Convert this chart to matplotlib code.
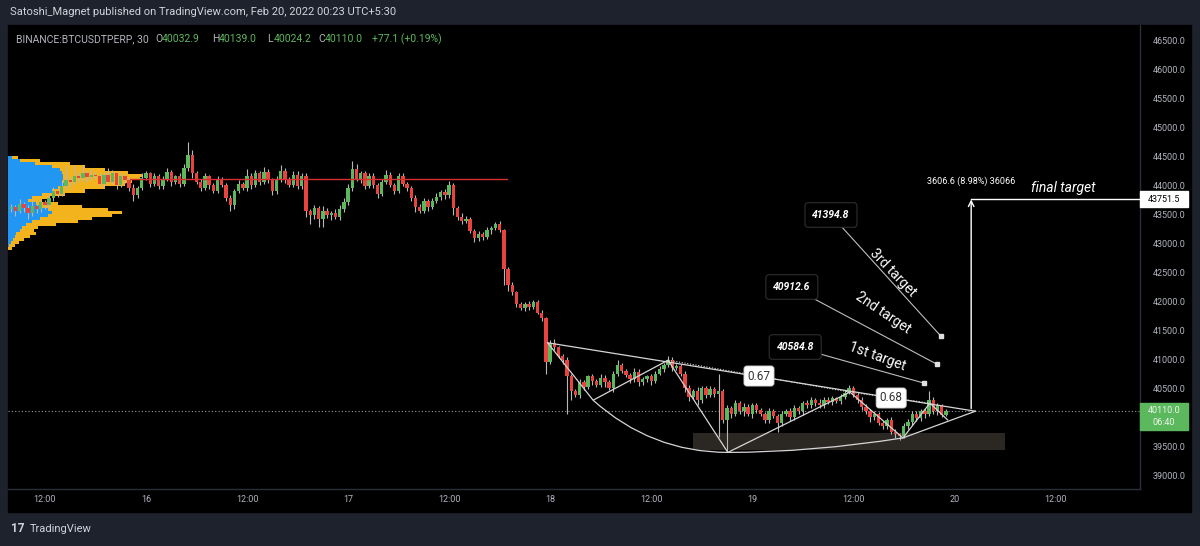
import numpy as np
import matplotlib
matplotlib.use('Agg')
import matplotlib.pyplot as plt
from matplotlib.patches import Rectangle, PathPatch
from matplotlib.path import Path
import matplotlib.transforms as mtransforms

plt.rcParams['font.family'] = ['Roboto', 'DejaVu Sans']

# ---- data (30 min candles, time in hours after Feb 15 00:00) ----
t_first = 8.0
open_first = 43580
closes = [
    43620, 43550, 43680, 43600, 43520, 43640, 43580, 43700, 43650, 43780,
    43900, 43850, 43980, 44080, 44050, 44150, 44120, 44200, 44130, 44180,
    44150, 44020, 44180, 44060, 44200, 44000, 44150, 44080, 43950, 43820,
    43950, 44120, 44200, 44020, 44150, 43980, 44100, 44220, 44050, 44150,
    44020, 44300, 44520, 44200, 44050, 43950, 44150, 44000, 43900, 44100,
    44000, 43780, 43650, 43900, 44020, 43950, 44150, 44000, 44200, 44050,
    44230, 44080, 43900, 44100, 44250, 44100, 44000, 44180, 43980, 44150,
    43550, 43480, 43600, 43420, 43550, 43480, 43520, 43450, 43580, 43700,
    43950, 44280, 44100, 44200, 43980, 44150, 44000, 43850, 44050, 44180,
    44000, 43900, 44150, 44020, 43950, 43780, 43620, 43550, 43720, 43620,
    43720, 43800, 43880, 43820, 44000, 43600, 43450, 43380, 43420, 43200,
    43080, 43150, 43100, 43220, 43260, 43320, 43220, 42550, 42280, 42150,
    41950, 41880, 41950, 41900, 41980, 41800, 41700, 40950, 41280, 41200,
    41050, 40980, 40700, 40450, 40380, 40600, 40520, 40700, 40620, 40560,
    40680, 40600, 40500, 40750, 40900, 40800, 40720, 40650, 40780, 40600,
    40650, 40700, 40620, 40750, 40820, 40900, 40980, 40850, 40880, 40750,
    40500, 40350, 40450, 40300, 40500, 40380, 40480, 40400, 40450, 39950,
    40150, 40050, 40250, 40100, 40180, 40050, 40200, 40120, 40050, 39950,
    40100, 40020, 39900, 40050, 40100, 40000, 40150, 40100, 40250, 40200,
    40300, 40250, 40200, 40300, 40260, 40320, 40280, 40350, 40420, 40500,
    40380, 40300, 40180, 40100, 40000, 40050, 39900, 39850, 39950, 39750,
    39700, 39680, 39850, 39920, 40050, 39980, 40100, 40050, 40300, 40100,
    40200, 40032.9, 40110.0,
]
wick_up = [
    60, 40, 80, 30, 50, 120, 40, 60, 50, 80,
    70, 40, 100, 250, 60, 200, 80, 150, 40, 90,
    50, 60, 40, 120, 60, 30, 80, 40, 50, 60,
    40, 80, 50, 30, 60, 40, 50, 70, 40, 30,
    50, 60, 220, 80, 40, 60, 50, 30, 40, 60,
    40, 30, 50, 40, 60, 30, 120, 50, 60, 40,
    80, 50, 40, 60, 90, 50, 40, 70, 60, 50,
    50, 40, 60, 30, 80, 50, 40, 60, 70, 80,
    60, 140, 80, 50, 40, 60, 50, 40, 60, 80,
    40, 30, 60, 50, 40, 30, 40, 50, 60, 40,
    50, 60, 40, 50, 70, 40, 30, 60, 40, 30,
    40, 50, 40, 60, 30, 40, 60, 30, 40, 50,
    30, 40, 30, 50, 40, 30, 40, 20, 40, 60,
    30, 40, 50, 40, 30, 60, 40, 30, 50, 40,
    60, 40, 30, 50, 80, 40, 30, 40, 60, 50,
    40, 30, 50, 40, 60, 40, 80, 50, 40, 30,
    40, 50, 30, 60, 40, 30, 50, 40, 300, 40,
    60, 40, 50, 30, 60, 40, 50, 40, 30, 40,
    50, 40, 30, 60, 40, 50, 60, 40, 30, 50,
    40, 30, 60, 40, 50, 40, 30, 50, 40, 60,
    40, 30, 50, 40, 30, 50, 40, 30, 40, 50,
    40, 30, 50, 40, 60, 50, 40, 60, 150, 40,
    50, 30, 29,
]
wick_dn = [
    50, 80, 40, 60, 100, 50, 70, 40, 60, 40,
    60, 50, 40, 60, 80, 40, 60, 50, 70, 40,
    50, 40, 60, 30, 50, 60, 40, 50, 60, 100,
    50, 40, 30, 60, 40, 50, 40, 30, 60, 40,
    50, 40, 60, 80, 40, 50, 30, 60, 40, 30,
    40, 50, 100, 60, 40, 30, 50, 60, 40, 50,
    30, 40, 80, 50, 40, 60, 40, 30, 50, 40,
    100, 150, 60, 150, 150, 50, 80, 40, 60, 50,
    40, 50, 30, 60, 40, 30, 50, 80, 40, 30,
    40, 60, 30, 40, 50, 60, 80, 40, 30, 60,
    40, 30, 50, 60, 40, 120, 60, 50, 40, 30,
    60, 40, 50, 30, 60, 40, 30, 270, 100, 50,
    60, 40, 50, 60, 40, 30, 50, 200, 40, 50,
    40, 60, 650, 150, 40, 60, 50, 30, 60, 40,
    50, 80, 40, 60, 50, 40, 30, 60, 40, 70,
    40, 50, 60, 40, 30, 50, 40, 60, 40, 50,
    60, 80, 40, 100, 50, 60, 40, 50, 750, 50,
    550, 60, 40, 50, 80, 40, 60, 50, 40, 60,
    50, 40, 150, 50, 40, 60, 50, 40, 60, 50,
    40, 60, 50, 40, 30, 50, 40, 60, 40, 30,
    40, 50, 60, 40, 80, 50, 40, 60, 50, 40,
    60, 80, 40, 50, 60, 40, 50, 60, 40, 50,
    60, 40, 9,
]

time_ticks = [12, 24, 36, 48, 60, 72, 84, 96, 108, 120, 132]
time_labels = ['12:00', '16', '12:00', '17', '12:00', '18', '12:00', '19',
               '12:00', '20', '12:00']
price_ticks = list(range(39000, 47000, 500))

# visible range volume profile (top row -> bottom row)
vp_top, vp_bottom = 44466, 42914
vol_up = [4, 12, 27, 44, 52, 54, 55, 55, 54, 56, 50, 44, 34, 24, 20, 28,
          34, 40, 44, 40, 32, 24, 18, 14, 12, 8, 7, 5, 3, 1, 0]
vol_down = [6, 20, 35, 33, 45, 66, 80, 77, 70, 61, 47, 33, 23, 18, 14, 22,
            40, 60, 70, 64, 52, 46, 30, 16, 14, 20, 15, 11, 8, 6, 4]

poc_price = 44100
last_close = 40110.0
targets = [40584.8, 40912.6, 41394.8]
target_names = ['1st target', '2nd target', '3rd target']
final_target = 43751.5

# pattern drawing points (hours, price)
pat_x = (71.7, 41280)
pat_a = (77.1, 40290)
pat_b = (86.0, 40980)
pat_c = (93.1, 39390)
pat_d = (107.6, 40430)
pat_e = (113.9, 39640)
pat_f = (117.1, 40240)
pat_g = (119.2, 39950)
apex = (122.5, 40100)

# ---- figure ----
W, H = 1200, 546
fig = plt.figure(figsize=(W / 100, H / 100), dpi=100)
fig.patch.set_facecolor('#1e222d')


def fx(x):
    return x / W


def fy(y):
    return 1 - y / H


fig.patches.append(Rectangle((fx(8), fy(512)), fx(1191) - fx(8), fy(25) - fy(512),
                             transform=fig.transFigure, color='black', zorder=-5))

ax = fig.add_axes([fx(8), fy(489), fx(1140) - fx(8), fy(25) - fy(489)])
ax.set_facecolor('black')
ax.set_xlim(7.61, 142.05)
ax.set_ylim(38759, 46759)
for s in ['top', 'left']:
    ax.spines[s].set_visible(False)
for s in ['bottom', 'right']:
    ax.spines[s].set_color('#2a2e39')
    ax.spines[s].set_linewidth(1)

ax.set_xticks(time_ticks)
ax.set_xticklabels(time_labels)
ax.yaxis.tick_right()
ax.set_yticks(price_ticks)
# the 40000 label sits under the last price badge
ax.set_yticklabels(['' if p == 40000 else f'{p:.1f}' for p in price_ticks])
ax.tick_params(axis='x', length=0, pad=4.5, labelsize=6.5, labelcolor='#b2b5be')
ax.tick_params(axis='y', length=0, pad=9, labelsize=6.5, labelcolor='#b2b5be')

# volume profile
n_rows = len(vol_up)
row_prices = np.linspace(vp_top, vp_bottom, n_rows)
row_h = (vp_top - vp_bottom) / (n_rows - 1)
px_h = 1 / 8.42
x0 = ax.get_xlim()[0]
up_w = np.array(vol_up) * px_h
dn_w = np.array(vol_down) * px_h
ax.barh(row_prices, up_w, height=row_h, left=x0, color='#2196f3', zorder=1, linewidth=0)
ax.barh(row_prices, dn_w, height=row_h, left=x0 + up_w, color='#f2b31c', zorder=1,
        linewidth=0)

# candles
closes = np.array(closes, dtype=float)
opens = np.concatenate([[open_first], closes[:-1]])
times = t_first + 0.5 * np.arange(len(closes))
highs = np.maximum(opens, closes) + np.array(wick_up)
lows = np.minimum(opens, closes) - np.array(wick_dn)
up = closes >= opens
colors = np.where(up, '#5cb85c', '#e8433f')
ax.vlines(times, lows, highs, color='#b8b8b8', linewidth=0.8, zorder=3)
body_lo = np.minimum(opens, closes)
body_h = np.maximum(np.abs(closes - opens), 12)
ax.bar(times, body_h, bottom=body_lo, width=0.4, color=colors, linewidth=0, zorder=4)

# red level line and last price line
ax.plot([22.1, 66.9], [poc_price, poc_price], color='#d32f2f', lw=1, zorder=5)
ax.axhline(last_close, color='#9a9a9a', lw=0.8, ls=(0, (1, 2)), zorder=2)

# support zone
ax.add_patch(Rectangle((89.0, 39432), 37.0, 293, color='#2b2723', zorder=1.5, lw=0))

# pattern
lc = '#d6d6d6'
zig = [pat_x, pat_a, pat_b, pat_c, pat_d, pat_e, pat_f, pat_g]
ax.plot([p[0] for p in zig], [p[1] for p in zig], color=lc, lw=0.9, zorder=6)
ax.plot([pat_x[0], apex[0]], [pat_x[1], apex[1]], color=lc, lw=0.9, zorder=6)
ax.plot([pat_e[0], apex[0]], [pat_e[1], apex[1]], color=lc, lw=0.9, zorder=6)
ax.plot([pat_b[0], pat_d[0]], [pat_b[1], pat_d[1]], color=lc, lw=0.8, ls=(0, (1, 1.5)), zorder=6)
ax.plot([pat_d[0], pat_f[0]], [pat_d[1], pat_f[1]], color=lc, lw=0.8, ls=(0, (1, 1.5)), zorder=6)
arc = Path([pat_a, (84.0, 39390), pat_c, (103.0, 39390), pat_e],
           [Path.MOVETO, Path.CURVE3, Path.CURVE3, Path.CURVE3, Path.CURVE3])
ax.add_patch(PathPatch(arc, fill=False, edgecolor=lc, lw=0.9, zorder=6))

for txt, pos in [('0.67', (96.8, 40707)), ('0.68', (112.5, 40328))]:
    ax.text(pos[0], pos[1], txt, color='#333333', fontsize=8.5, ha='center', va='center',
            zorder=8, bbox=dict(boxstyle='round,pad=0.3,rounding_size=0.25', fc='white',
                                ec='#cccccc', lw=0.6))

# targets
box_pos = [(101.1, 41207), (100.7, 42242), (105.35, 43483)]
marker_t = [116.4, 117.9, 118.4]
name_pos = [(110.8, 41035, -20), (111.5, 41793, -34), (112.7, 42483, -46)]
for price, name, bp, mt, npos in zip(targets, target_names, box_pos, marker_t, name_pos):
    ax.plot([bp[0], mt], [bp[1], price], color='#bdbdbd', lw=0.8, zorder=6)
    ax.plot([mt], [price], marker='s', ms=3, color='#e0e0e0', zorder=7)
    ax.text(bp[0], bp[1], f'{price:.1f}', color='white', fontsize=7.5, fontweight='bold',
            fontstyle='italic', ha='center', va='center', zorder=8,
            bbox=dict(boxstyle='round,pad=0.7,rounding_size=0.3', fc='black',
                      ec='#2e2e2e', lw=0.8))
    ax.text(npos[0], npos[1], name, color='white', fontsize=10, rotation=npos[2],
            rotation_mode='anchor', ha='center', va='center', zorder=8)

# final target arrow
arrow_t = 122.0
ax.annotate('', xy=(arrow_t, final_target), xytext=(arrow_t, 40145),
            arrowprops=dict(arrowstyle='->', color='white', lw=1.0, shrinkA=0, shrinkB=0),
            zorder=7)
ax.plot([arrow_t, ax.get_xlim()[1]], [final_target, final_target], color='white', lw=1.0,
        zorder=7)
ax.text(arrow_t, 44069, '3606.6 (8.98%) 36066', color='white', fontsize=6.5, ha='center',
        va='center', zorder=8)
ax.text(132.9, 43948, 'final target', color='white', fontsize=10, fontstyle='italic',
        ha='center', va='center', zorder=8)

# price axis labels
tr = mtransforms.blended_transform_factory(ax.transAxes, ax.transData)
ppx = 17.24
axw = 1132.0
ax.add_patch(Rectangle((1.0, final_target - 8 * ppx), 48 / axw, 16 * ppx, transform=tr,
                       color='white', clip_on=False, zorder=10))
ax.text(1.0 + 24 / axw, final_target, f'{final_target:.1f}', transform=tr, color='black',
        fontsize=6.5, ha='center', va='center', clip_on=False, zorder=11)
ax.add_patch(Rectangle((1.0, last_close - 19 * ppx), 48 / axw, 27 * ppx, transform=tr,
                       color='#5cb85c', clip_on=False, zorder=10))
ax.text(1.0 + 24 / axw, last_close, f'{last_close:.1f}', transform=tr, color='#eaf6ea',
        fontsize=6.5, ha='center', va='center', clip_on=False, zorder=11)
ax.text(1.0 + 24 / axw, last_close - 12 * ppx, '06:40', transform=tr, color='#eaf6ea',
        fontsize=6.5, ha='center', va='center', clip_on=False, zorder=11)

# header / legend / footer
fig.text(fx(10), fy(12), 'Satoshi_Magnet published on TradingView.com, Feb 20, 2022 00:23 UTC+5:30',
         color='#d1d4dc', fontsize=8, va='center')
fig.text(fx(16), fy(39), 'BINANCE:BTCUSDTPERP, 30', color='#b2b5be', fontsize=7.5, va='center')
ohlc = [('O', '40032.9', 155), ('H', '40139.0', 212), ('L', '40024.2', 267),
        ('C', '40110.0', 318)]
for k, v, xp in ohlc:
    fig.text(fx(xp), fy(39), k, color='#b2b5be', fontsize=7.5, va='center')
    fig.text(fx(xp + 7), fy(39), v, color='#5cb85c', fontsize=7.5, va='center')
fig.text(fx(372), fy(39), '+77.1 (+0.19%)', color='#5cb85c', fontsize=7.5, va='center')
fig.text(fx(11), fy(529), '17', color='#d1d4dc', fontsize=8.5, fontweight='bold', va='center')
fig.text(fx(30), fy(529), 'TradingView', color='#d1d4dc', fontsize=8, va='center')

fig.savefig('out.png', dpi=100, facecolor=fig.get_facecolor())
